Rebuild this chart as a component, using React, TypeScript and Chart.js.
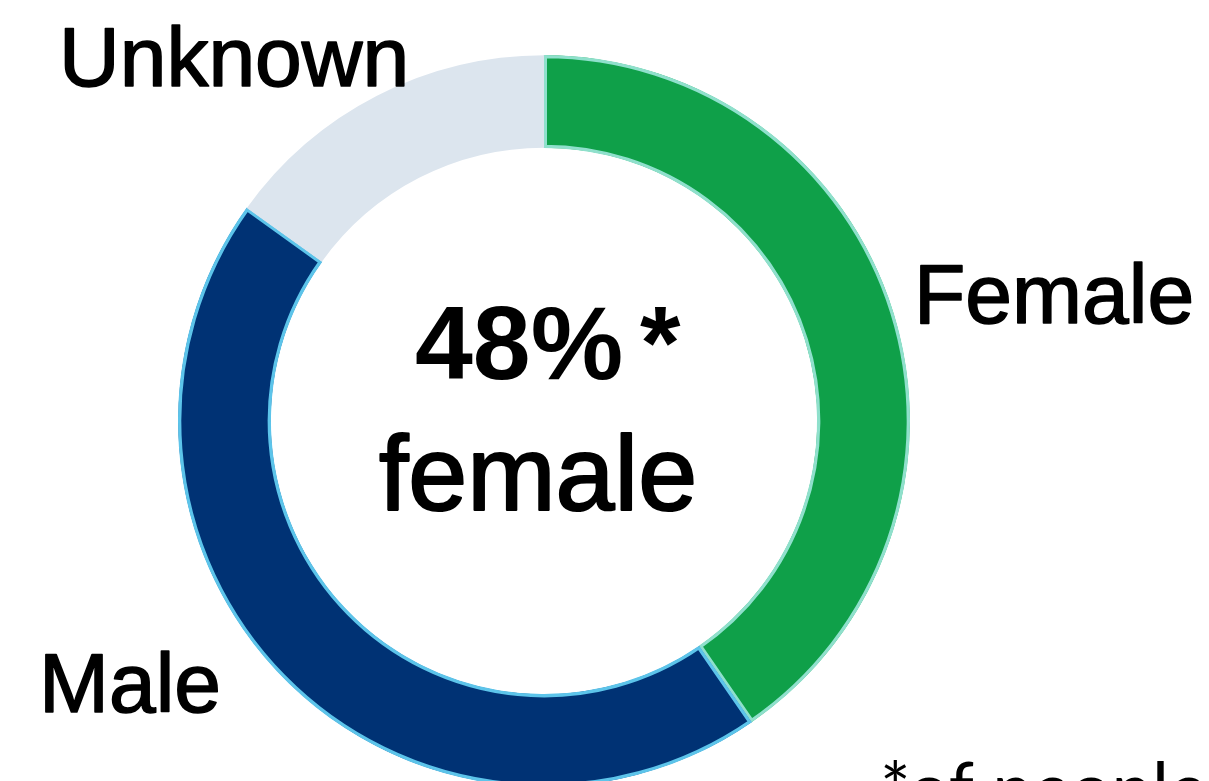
import React, { useEffect, useRef } from "react";
import { Chart, registerables } from "chart.js";

Chart.register(...registerables);

const categories = ["Female", "Male", "Unknown"];
const shares = [40.4, 44.5, 15.1];
const fillColors = ["#0fa049", "#003274", "#dce5ee"];
const edgeColors = ["#8fe0cc", "#5cc4ea", "#dce5ee"];
const edgeWidths = [3, 3, 0];
const centerLines = ["48%", "*", "female"];
const footnote = "*of people";

function heavyText(ctx: CanvasRenderingContext2D, t: string, x: number, y: number, w: number) {
  ctx.fillText(t, x, y);
  if (w > 0) {
    ctx.lineWidth = w;
    ctx.lineJoin = "round";
    ctx.strokeText(t, x, y);
  }
}

const labelPlugin = {
  id: "sideLabels",
  afterDraw(chart: any) {
    const ctx = chart.ctx as CanvasRenderingContext2D;
    ctx.save();
    ctx.fillStyle = "#000";
    ctx.strokeStyle = "#000";
    ctx.textBaseline = "alphabetic";
    // Segment labels
    ctx.font = "84px 'Liberation Sans', Arial, sans-serif";
    ctx.textAlign = "left";
    heavyText(ctx, categories[2], 59, 86, 1.6);
    heavyText(ctx, categories[0], 914, 323, 1.6);
    heavyText(ctx, categories[1], 39, 712, 1.6);
    // Center text
    ctx.font = "bold 104px 'Liberation Sans', Arial, sans-serif";
    heavyText(ctx, centerLines[0], 415, 379, 0);
    heavyText(ctx, centerLines[1], 640, 379, 0);
    ctx.font = "106px 'Liberation Sans', Arial, sans-serif";
    ctx.textAlign = "center";
    heavyText(ctx, centerLines[2], 538, 510, 2.2);
    // Footnote
    ctx.font = "72px Lato, 'Open Sans', sans-serif";
    ctx.textAlign = "left";
    ctx.fillText(footnote, 880, 814);
    ctx.restore();
  },
};

export default function App() {
  const ref = useRef<HTMLCanvasElement | null>(null);
  useEffect(() => {
    if (!ref.current) return;
    const chart = new Chart(ref.current, {
      type: "doughnut",
      data: {
        labels: categories,
        datasets: [
          {
            data: shares,
            backgroundColor: fillColors,
            borderColor: edgeColors,
            borderWidth: edgeWidths,
            borderAlign: "inner",
            hoverOffset: 0,
          } as any,
        ],
      },
      options: {
        animation: false,
        responsive: false,
        maintainAspectRatio: false,
        cutout: "74.6%",
        layout: { padding: { top: 55, bottom: 63, left: 178, right: 299 } },
        plugins: { legend: { display: false }, tooltip: { enabled: false } },
        events: [],
      },
      plugins: [labelPlugin],
    });
    return () => chart.destroy();
  }, []);
  return (
    <div
      style={{
        position: "fixed",
        left: 0,
        top: 0,
        width: 1209,
        height: 781,
        overflow: "hidden",
        background: "#fff",
      }}
    >
      <canvas ref={ref} width={1209} height={850} style={{ display: "block" }} />
    </div>
  );
}
